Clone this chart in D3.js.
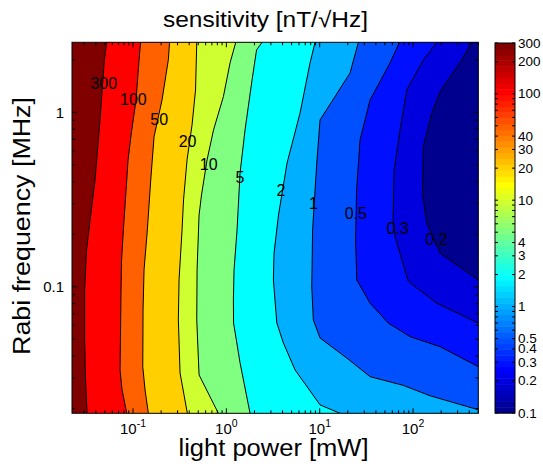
<!DOCTYPE html>
<html>
<head>
<meta charset="utf-8">
<script src="https://cdn.jsdelivr.net/npm/d3@7"></script>
<style>
  body { margin: 0; background: #fff; }
  svg { display: block; }
  text { font-family: "Liberation Sans", Arial, Helvetica, sans-serif; fill: #000; }
</style>
</head>
<body>
<svg id="chart" width="543" height="464"></svg>
<script>
// Contour levels of the sensitivity map, in nT/sqrt(Hz), from high to low
const levels = [300, 100, 50, 20, 10, 5, 2, 1, 0.5, 0.3, 0.2, 0.1];

// Iso-sensitivity lines as [light power (mW), Rabi frequency (MHz)] points
const c300 = [[0.0523,2.52],[0.0493,2.00],[0.0443,0.905],[0.0392,0.410],[0.0347,0.2415],[0.0318,0.163],[0.0303,0.0959],[0.0303,0.0495],[0.0310,0.0292],[0.0322,0.0188]];
const c100 = [[0.1204,2.52],[0.1161,2.00],[0.1078,1.178],[0.0953,0.742],[0.0885,0.5335],[0.0857,0.410],[0.0788,0.2116],[0.0754,0.1424],[0.0744,0.0959],[0.0735,0.0565],[0.0726,0.0333],[0.0763,0.0256],[0.0857,0.0188]];
const c50 = [[0.2463,2.52],[0.2391,2.00],[0.2047,1.178],[0.1680,0.723],[0.1549,0.410],[0.1424,0.2116],[0.1313,0.1249],[0.1281,0.0736],[0.1272,0.0348],[0.1346,0.0256],[0.1460,0.0188]];
const c20 = [[0.4818,2.52],[0.4677,1.344],[0.4290,0.847],[0.3793,0.5335],[0.3478,0.3147],[0.3352,0.2116],[0.3113,0.1094],[0.3060,0.0645],[0.3191,0.0320],[0.3821,0.0188]];
const c10 = [[1.261,2.52],[1.096,1.920],[0.929,1.230],[0.729,0.793],[0.621,0.5335],[0.542,0.3361],[0.510,0.2580],[0.4855,0.1249],[0.4818,0.0645],[0.510,0.0312],[0.821,0.0188]];
const c5 = [[2.413,2.52],[2.107,2.279],[1.885,1.534],[1.586,0.793],[1.402,0.4494],[1.302,0.2116],[1.209,0.1249],[1.189,0.0840],[1.194,0.0620],[1.402,0.0366],[1.794,0.0188]];
const c2 = [[8.92,2.52],[7.88,1.920],[6.16,0.992],[4.47,0.5126],[3.62,0.2580],[3.24,0.1556],[3.19,0.1094],[3.47,0.0620],[4.08,0.0476],[5.45,0.0333],[10.09,0.0210],[16.52,0.0188]];
const c1 = [[25.95,2.52],[21.15,1.682],[13.47,1.152],[10.09,0.905],[9.30,0.5126],[8.39,0.2116],[8.22,0.0997],[8.55,0.0645],[10.09,0.0508],[19.49,0.0390],[34.63,0.0305],[78.2,0.0272],[152.2,0.0237],[500,0.0197]];
const c05 = [[71.4,2.52],[56.7,1.920],[34.63,1.178],[27.06,0.695],[24.83,0.3589],[24.23,0.1855],[24.95,0.1094],[34.63,0.0804],[54.4,0.0618],[92.9,0.0517],[194.8,0.0453],[500,0.0348]];
const c03 = [[179.6,2.52],[129.0,2.00],[85.6,1.344],[72.6,0.793],[62.6,0.4674],[61.1,0.2415],[64.2,0.1930],[89.1,0.1070],[179.6,0.0804],[500,0.0618]];
const c02 = [[425.7,2.52],[332.7,2.00],[194.8,1.314],[158.7,0.988],[129.0,0.636],[125.9,0.3437],[140.3,0.2312],[194.8,0.1556],[500,0.1094]];

// Where each line carries its level label, [mW, MHz]
const labelPoints = [[0.0486,1.469],[0.1008,1.178],[0.1910,0.905],[0.3840,0.679],[0.648,0.5046],[1.395,0.4233],[3.84,0.3551],[8.55,0.3012],[24.34,0.2638],[68.3,0.2165],[177.4,0.1855]];
const labelTexts = ["300","100","50","20","10","5","2","1","0.5","0.3","0.2"];

// Axis ranges and tick labels
const powerRange = [0.0222, 500];
const rabiRange = [0.0188, 2.52];
const powerTicks = [0.1, 1, 10, 100];
const powerTickExp = ["-1", "0", "1", "2"];
const rabiTicks = [1, 0.1];
const rabiTickLabels = ["1", "0.1"];
const cbarRange = [0.1, 300];
const cbarTicks = [300, 200, 100, 40, 30, 20, 10, 4, 3, 2, 1, 0.5, 0.4, 0.3, 0.2, 0.1];
const cbarTickLabels = ["300","200","100","40","30","20","10","4","3","2","1","0.5","0.4","0.3","0.2","0.1"];

const contourLines = [c300, c100, c50, c20, c10, c5, c2, c1, c05, c03, c02];

// ---- colormap: 64-step jet, mapped on log10 of the value ----
const NC = 64;
function jetU(i) { // i in 1..47
  const n = 16;
  if (i < 1 || i > 47) return 0;
  if (i <= n) return i / n;
  if (i <= 2 * n - 1) return 1;
  return (3 * n - i) / n;
}
function jetColor(k) { // k in 1..64
  const r = jetU(k - 24), g = jetU(k - 8), b = jetU(k + 8);
  return d3.rgb(Math.round(r * 255), Math.round(g * 255), Math.round(b * 255)).toString();
}
const cmin = Math.log10(cbarRange[0]), cmax = Math.log10(cbarRange[1]);
function colorIndex(v) {
  const t = (Math.log10(v) - cmin) / (cmax - cmin);
  return Math.max(1, Math.min(NC, Math.floor(t * NC + 1e-9) + 1));
}
const colorOf = v => jetColor(colorIndex(v));

// ---- layout ----
const svg = d3.select("#chart");
const plot = { left: 72, right: 478.3, top: 42.3, bottom: 413.3 };
const cbar = { left: 495, right: 515, top: 43, bottom: 413 };

const x = d3.scaleLog().domain(powerRange).range([plot.left, plot.right]);
const y = d3.scaleLog().domain(rabiRange).range([plot.bottom, plot.top]);

svg.append("defs").append("clipPath").attr("id", "plotclip")
  .append("rect").attr("x", plot.left).attr("y", plot.top)
  .attr("width", plot.right - plot.left).attr("height", plot.bottom - plot.top);

const g = svg.append("g").attr("clip-path", "url(#plotclip)");

// region above the highest level
g.append("rect").attr("x", plot.left).attr("y", plot.top)
  .attr("width", plot.right - plot.left).attr("height", plot.bottom - plot.top)
  .attr("fill", colorOf(levels[0]));

const line = d3.line().x(d => x(d[0])).y(d => y(d[1]));

// Each band lies to the right of its upper iso-line; paint from high to low
contourLines.forEach((pts, i) => {
  const last = pts[pts.length - 1];
  const poly = pts.concat([[powerRange[1], last[1]], [powerRange[1], rabiRange[1]]]);
  g.append("path").attr("d", line(poly) + "Z")
    .attr("fill", colorOf(levels[i + 1])).attr("stroke", "none");
});
contourLines.forEach(pts => {
  g.append("path").attr("d", line(pts))
    .attr("fill", "none").attr("stroke", "#000").attr("stroke-width", 1);
});

// contour labels
svg.append("g").selectAll("text").data(labelPoints).join("text")
  .attr("x", d => x(d[0])).attr("y", d => y(d[1]))
  .attr("text-anchor", "middle").attr("dominant-baseline", "central")
  .attr("font-size", 16)
  .text((d, i) => labelTexts[i]);

// ---- axes box and ticks ----
const axes = svg.append("g").attr("stroke", "#000").attr("stroke-width", 1).attr("fill", "none");
axes.append("rect").attr("x", plot.left).attr("y", plot.top)
  .attr("width", plot.right - plot.left).attr("height", plot.bottom - plot.top);

function logTicks(lo, hi) {
  const out = [];
  for (let e = Math.floor(Math.log10(lo)); e <= Math.ceil(Math.log10(hi)); e++) {
    for (let m = 1; m <= 9; m++) {
      const v = m * Math.pow(10, e);
      if (v >= lo * 0.999 && v <= hi * 1.001) out.push({ v, major: m === 1 });
    }
  }
  return out;
}
const majL = 5, minL = 3;
logTicks(powerRange[0], powerRange[1]).forEach(t => {
  const px = x(t.v), L = t.major ? majL : minL;
  axes.append("line").attr("x1", px).attr("x2", px).attr("y1", plot.bottom).attr("y2", plot.bottom - L);
  axes.append("line").attr("x1", px).attr("x2", px).attr("y1", plot.top).attr("y2", plot.top + L);
});
logTicks(rabiRange[0], rabiRange[1]).forEach(t => {
  const py = y(t.v), L = t.major ? majL : minL;
  axes.append("line").attr("x1", plot.left).attr("x2", plot.left + L).attr("y1", py).attr("y2", py);
  axes.append("line").attr("x1", plot.right).attr("x2", plot.right - L).attr("y1", py).attr("y2", py);
});

// x tick labels as powers of ten
powerTicks.forEach((v, i) => {
  const t = svg.append("text").attr("x", x(v)).attr("y", 433.5)
    .attr("text-anchor", "middle").attr("font-size", 15);
  t.append("tspan").text("10");
  t.append("tspan").attr("dy", -7).attr("font-size", 10.5).text(powerTickExp[i]);
});
// y tick labels
rabiTicks.forEach((v, i) => {
  svg.append("text").attr("x", plot.left - 8).attr("y", y(v))
    .attr("text-anchor", "end").attr("dominant-baseline", "central")
    .attr("font-size", 15).text(rabiTickLabels[i]);
});

// titles
svg.append("text").attr("x", 265.5).attr("y", 27).attr("text-anchor", "middle")
  .attr("font-size", 22).attr("textLength", 205).attr("lengthAdjust", "spacingAndGlyphs")
  .text("sensitivity [nT/\u221AHz]");
svg.append("text").attr("x", 273.5).attr("y", 456).attr("text-anchor", "middle")
  .attr("font-size", 23.5).attr("textLength", 190).attr("lengthAdjust", "spacingAndGlyphs")
  .text("light power [mW]");
svg.append("text").attr("transform", "translate(30," + 226 + ") rotate(-90)")
  .attr("text-anchor", "middle").attr("font-size", 23.5)
  .attr("textLength", 258).attr("lengthAdjust", "spacingAndGlyphs")
  .text("Rabi frequency [MHz]");

// ---- colorbar ----
const cy = d3.scaleLog().domain(cbarRange).range([cbar.bottom, cbar.top]);
const cb = svg.append("g");
for (let k = 1; k <= NC; k++) {
  const v0 = Math.pow(10, cmin + (k - 1) / NC * (cmax - cmin));
  const v1 = Math.pow(10, cmin + k / NC * (cmax - cmin));
  cb.append("rect").attr("x", cbar.left).attr("width", cbar.right - cbar.left)
    .attr("y", cy(v1)).attr("height", cy(v0) - cy(v1) + 0.5)
    .attr("fill", jetColor(k));
}
cb.append("rect").attr("x", cbar.left).attr("y", cbar.top)
  .attr("width", cbar.right - cbar.left).attr("height", cbar.bottom - cbar.top)
  .attr("fill", "none").attr("stroke", "#000").attr("stroke-width", 1);
logTicks(cbarRange[0], cbarRange[1]).forEach(t => {
  const py = cy(t.v);
  cb.append("line").attr("x1", cbar.left).attr("x2", cbar.left + 3).attr("y1", py).attr("y2", py).attr("stroke", "#000");
  cb.append("line").attr("x1", cbar.right).attr("x2", cbar.right - 3).attr("y1", py).attr("y2", py).attr("stroke", "#000");
});
cbarTicks.forEach((v, i) => {
  cb.append("text").attr("x", cbar.right + 3).attr("y", cy(v))
    .attr("dominant-baseline", "central").attr("font-size", 13.5).text(cbarTickLabels[i]);
});
</script>
</body>
</html>
